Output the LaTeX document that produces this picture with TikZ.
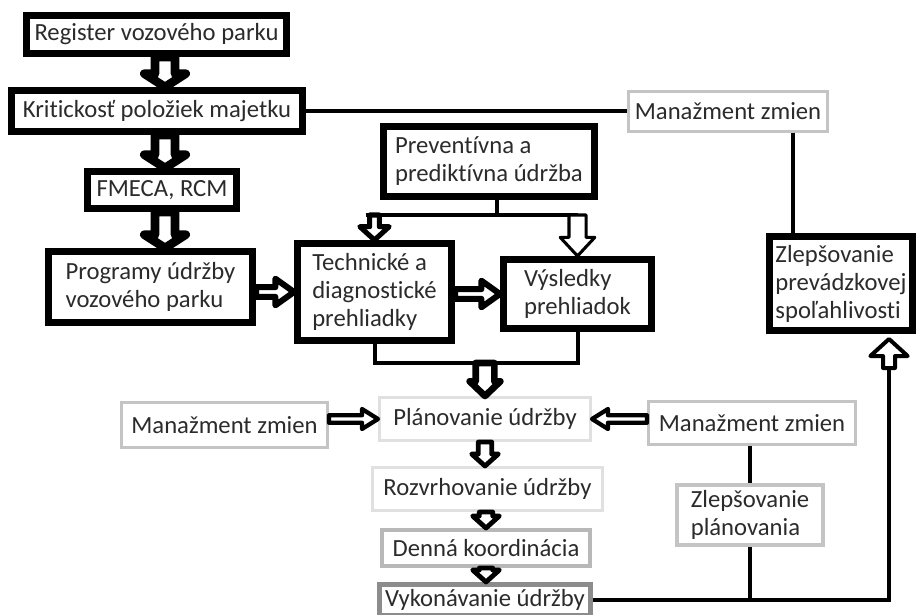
\documentclass[tikz,border=0pt]{standalone}
\usepackage{fontspec}
\setmainfont{Carlito}[Ligatures=NoCommon]
\usetikzlibrary{calc}
\definecolor{txt}{HTML}{2B2B2B}
\definecolor{g0}{HTML}{E0E0E0}
\definecolor{g1}{HTML}{C4C4C4}
\definecolor{g2}{HTML}{B8B8B8}
\definecolor{g3}{HTML}{8C8C8C}
\begin{document}
\begin{tikzpicture}[x=0.75pt,y=-0.75pt,
  bw/.store in=\baw, bW/.store in=\baWW, bL/.store in=\baL,
  barrow/.style={draw=black, fill=white, line join=round, to path={
    ($(\tikztotarget)!\baL!(\tikztostart)$) coordinate (ba-h)
    ($(\tikztostart)!\baw!90:(\tikztotarget)$) -- ($(ba-h)!\baw!90:(\tikztotarget)$)
    -- ($(ba-h)!\baWW!90:(\tikztotarget)$) -- (\tikztotarget)
    -- ($(ba-h)!\baWW!-90:(\tikztotarget)$) -- ($(ba-h)!\baw!-90:(\tikztotarget)$)
    -- ($(\tikztostart)!\baw!-90:(\tikztotarget)$) -- cycle}},
  bigA/.style={barrow, line width=6.5pt, bw=7.5pt, bW=15.5pt, bL=10pt},
  midB/.style={barrow, line width=4.5pt, bw=3.6pt, bW=10pt, bL=14pt},
  splL/.style={barrow, line width=3.8pt, bw=3.6pt, bW=11pt, bL=10pt},
  splR/.style={barrow, line width=2.3pt, bw=6.4pt, bW=13pt, bL=14pt},
  joinA/.style={barrow, line width=5pt, bw=7pt, bW=11.5pt, bL=11pt},
  sideA/.style={barrow, line width=3.2pt, bw=2.8pt, bW=7.5pt, bL=12pt},
  lowA/.style={barrow, line width=3.6pt, bw=5pt, bW=10pt, bL=9pt},
  upA/.style={barrow, line width=3pt, bw=4.5pt, bW=14pt, bL=12.75pt},
  conn/.style={draw=black, line width=3pt},
  bx/.style={fill=white, inner sep=0pt, align=left, text=txt,
    font=\fontsize{18.5}{21}\selectfont},
  blk/.style={bx, draw=black, line width=5.25pt},
  gry/.style={bx, draw=#1, line width=2.25pt},
  gryt/.style={bx, draw=#1, line width=3pt},
]
\useasboundingbox (0,0) rectangle (916,614);

% black boxes
\node[blk, minimum width=195pt, minimum height=28.5pt] (reg) at (156.5,34.5) {Register vozového parku};
\node[blk, minimum width=218.25pt, minimum height=30.75pt] (krit) at (157,111) {Kritickosť položiek majetku};
\node[blk, minimum width=111.75pt, minimum height=27.75pt] (fmeca) at (162,190) {FMECA, RCM};
\node[blk, minimum width=153pt, minimum height=53.25pt] (prog) at (150.5,287) {Programy údržby\\vozového parku};
\node[blk, minimum width=115.5pt, minimum height=72.75pt] (tech) at (374.5,292) {Technické a\\diagnostické\\prehliadky};
\node[blk, minimum width=111pt, minimum height=51.75pt] (vys) at (577.5,294) {Výsledky\\prehliadok};
\node[blk, minimum width=158.25pt, minimum height=52.5pt] (prev) at (489,161.5) {Preventívna a\\prediktívna údržba};
\node[blk, minimum width=107.25pt, minimum height=70.5pt] (zp) at (841,283.5) {Zlepšovanie\\prevádzkovej\\spoľahlivosti};

% grey boxes
\node[gry=g1, minimum width=149.25pt, minimum height=30pt] (mztop) at (728,111) {Manažment zmien};
\node[gry=g0, minimum width=158.25pt, minimum height=32.25pt] (plan) at (485,419) {Plánovanie údržby};
\node[gry=g1, minimum width=154.5pt, minimum height=33.75pt] (mzl) at (224.5,425) {Manažment zmien};
\node[gry=g1, minimum width=155.25pt, minimum height=32.25pt] (mzr) at (752,423) {Manažment zmien};
\node[gry=g0, minimum width=172.5pt, minimum height=32.25pt] (rozv) at (487.5,489) {Rozvrhovanie údržby};
\node[gryt=g2, minimum width=156pt, minimum height=27pt] (denna) at (486,548) {Denná koordinácia};
\node[bx, draw=g3, line width=3.75pt, minimum width=158.25pt, minimum height=23.25pt] (vyk) at (485,600) {Vykonávanie údržby};
\node[gryt=g1, minimum width=109.5pt, minimum height=45pt] (zpl) at (750,515) {Zlepšovanie\\plánovania};

% plain connectors
\draw[conn] (krit.east) -- (mztop.west);
\coordinate (mzx) at ($(mztop.south)+(65,0)$);
\draw[conn] (mzx) -- (mzx |- zp.north);

\coordinate (ps) at ($(prev.south)+(8,0)$);
\coordinate (bar) at ($(ps)+(0,15)$);
\coordinate (barL) at (tech.north |- bar);
\coordinate (barR) at (vys.north |- bar);
\coordinate (barL0) at ($(barL)+(-9,0)$);
\draw[conn] (ps) -- (bar);
\draw[conn] (barL0) -- (barR);

\coordinate (jy) at (0,363);
\coordinate (jR) at (vys.south |- jy);
\draw[conn] (tech.south) |- (jR) -- (vys.south);
\coordinate (jA) at (plan.north |- jy);

\coordinate (rb) at (889,600);
\coordinate (ru) at (889,362);
\draw[conn] (vyk.east) -- (vyk.east -| rb) -- (ru);
\draw[conn] (zpl.south) -- (zpl.south |- rb);
\draw[conn] (zpl.north |- mzr.south) -- (zpl.north);

% block arrows
\coordinate (ax) at (165,0);
\draw[bigA] (reg.south -| ax) to (krit.north -| ax);
\draw[bigA] (krit.south -| ax) to (fmeca.north -| ax);
\draw[bigA] (fmeca.south -| ax) to (prog.north -| ax);
\coordinate (a4s) at (prog.east |- tech.west);
\draw[midB] (a4s) to (tech.west);
\coordinate (a5s) at (tech.east |- vys.west);
\draw[midB] (a5s) to (vys.west);
\draw[splL] (barL) to (tech.north);
\draw[splR] (barR) to (vys.north);
\draw[joinA] (jA) to (plan.north);
\coordinate (a8s) at (mzl.east |- plan.west);
\draw[sideA] (a8s) to (plan.west);
\coordinate (a9s) at (mzr.west |- plan.east);
\draw[sideA] (a9s) to (plan.east);
\coordinate (a10t) at (plan.south |- rozv.north);
\draw[lowA] (plan.south) to (a10t);
\coordinate (a11s) at (denna.north |- rozv.south);
\draw[lowA] (a11s) to (denna.north);
\coordinate (a12t) at (denna.south |- vyk.north);
\draw[lowA] (denna.south) to (a12t);
\coordinate (us) at (889,368);
\coordinate (ut) at ($(zp.south -| rb)+(0,5)$);
\draw[upA] (us) to (ut);
\end{tikzpicture}
\end{document}
